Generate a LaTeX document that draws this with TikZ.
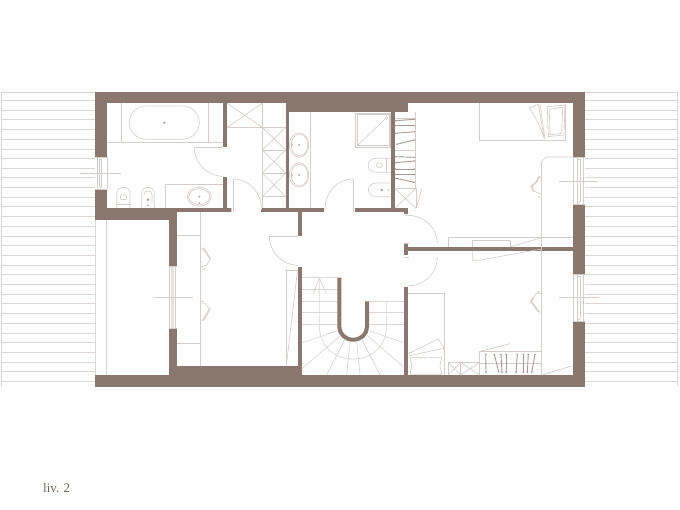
\documentclass[tikz,border=0pt]{standalone}
\usepackage{fontspec}
\setmainfont{Liberation Serif}
\definecolor{wallc}{HTML}{8A776E}
\definecolor{linec}{HTML}{DDD6D4}
\definecolor{fixc}{HTML}{D6CDCB}
\definecolor{darkc}{HTML}{A89B95}
\definecolor{labelc}{HTML}{6F625C}
\definecolor{glassc}{HTML}{E6E1DF}
\tikzset{
  wall/.style={fill=wallc,draw=none},
  thin line/.style={draw=linec,line width=0.75pt},
  fix/.style={draw=fixc,line width=0.65pt},
  hatch/.style={draw=linec,line width=0.8pt},
  axisline/.style={draw=fixc,line width=0.6pt},
  hanger/.style={draw=darkc,line width=0.9pt},
  lamp/.style={draw=linec,line width=2pt,line cap=round,line join=round},
  stairarm/.style={draw=wallc,line width=4pt},
}
\begin{document}
\begin{tikzpicture}[x=1pt,y=-1pt]
\useasboundingbox (0,0) rectangle (680,510);
% roof hatches
\foreach \y in {92.3,100.5,110.2,119.9,129.6,139.3,149,158.4,168.1,177.8,187.5,197.2,206.9,216.6,226.3,236,245.7,255.4,265.1,274.8,284.5,294.2,303.9,313.6,323.3,333,342.7,352.4,362.1,371.8,381.5}{
  \draw[hatch] (1.5,\y) -- (95,\y);
  \draw[hatch] (585,\y) -- (677,\y);
}
\draw[hatch] (1.5,92.3) -- (1.5,386);
\draw[hatch] (677,92.3) -- (677,386);
% lower left room
\fill[white] (95,219.7) rectangle (168.7,375);
\draw[thin line] (95,219.7) -- (95,375);
\draw[thin line] (106.7,219.7) -- (106.7,375);
\draw[thin line] (95,375) -- (168.7,375);
\draw[thin line] (95,219.7) -- (168.7,219.7);
% walls
\fill[wall] (95,92) rectangle (585,103.3);
\fill[wall] (285.7,103) rectangle (408.3,112.3);
\fill[wall] (95,92) rectangle (107,157);
\fill[wall] (95,189) rectangle (107,219.7);
\fill[wall] (95,208.3) rectangle (176.7,219.7);
\fill[wall] (168.7,208.3) rectangle (176.7,266.7);
\fill[wall] (168.7,328.3) rectangle (176.7,386.7);
\fill[wall] (95,375) rectangle (585,386.7);
\fill[wall] (176.7,366) rectangle (302.3,375);
\fill[wall] (573.3,92) rectangle (585,157.3);
\fill[wall] (573.3,204) rectangle (585,274.3);
\fill[wall] (573.3,321) rectangle (585,386.7);
\fill[wall] (223.3,103) rectangle (227.3,147);
\fill[wall] (223.3,176.7) rectangle (227.3,212.3);
\fill[wall] (176,208.3) rectangle (231.3,212.3);
\fill[wall] (260.7,208.3) rectangle (324.3,212.3);
\fill[wall] (355.3,208.3) rectangle (408.3,212.3);
\fill[wall] (404,208.3) rectangle (408.3,214.3);
\fill[wall] (285.7,103) rectangle (289.3,212);
\fill[wall] (390.7,103) rectangle (394.7,212);
\fill[wall] (298.3,212) rectangle (302.3,235.7);
\fill[wall] (298.3,266.7) rectangle (302.3,375);
\fill[wall] (404,244.3) rectangle (408,255);
\fill[wall] (404,247) rectangle (573.5,251);
\fill[wall] (404,286.7) rectangle (408,375);
% stairs U
\draw[stairarm] (339.3,277.7) -- (339.3,327) .. controls (339.3,334) and (345.5,339.7) .. (353.2,339.7) .. controls (361,339.7) and (367,334) .. (367,327) -- (367,301.3);
% stair treads
\foreach \y in {277.7,289.3,301.3,312.7,324.3}{\draw[thin line] (302.3,\y) -- (337.3,\y);}
\foreach \y in {301.3,312.7,324.3}{\draw[thin line] (369,\y) -- (404,\y);}
\draw[thin line] (337.7,330.7) -- (302.3,342.7);
\draw[thin line] (340,336) -- (302.3,368.3);
\draw[thin line] (345,339) -- (326.7,375);
\draw[thin line] (350,341.7) -- (346.7,375);
\draw[thin line] (356.7,341.7) -- (360,375);
\draw[thin line] (361.7,339) -- (380,375);
\draw[thin line] (366.7,335) -- (403.3,366.7);
\draw[thin line] (369,330.7) -- (403.3,342.7);
\draw[thin line] (319.3,277.7) -- (319.3,325) .. controls (319.3,347) and (335,359) .. (353,359) .. controls (371,359) and (386.7,347) .. (386.7,325) -- (386.7,301.3);
\draw[thin line] (313.3,294.3) -- (319.3,277.7) -- (326.7,294.3);
% doors
\draw[fix] (194.3,147.3) -- (223.3,147.3);
\draw[fix] (194.3,147.3) .. controls (194.3,163.3) and (207.3,176.3) .. (223.3,176.3);
\draw[fix] (233.3,179) -- (233.3,212);
\draw[fix] (233.3,179) .. controls (249,179) and (261.5,192) .. (261.5,210);
\draw[fix] (231.3,208.3) -- (231.3,212.3);
\draw[fix] (353.3,179) -- (353.3,212);
\draw[fix] (353.3,179) .. controls (337,179) and (325,192) .. (325,210);
\draw[fix] (405,215.3) -- (408,215.3) .. controls (425,216) and (437.3,228) .. (437.3,243.5);
\draw[fix] (404,243.5) -- (408.5,243.5);
\draw[fix] (404,257) -- (408.5,257);
\draw[fix] (437.3,257) .. controls (437.3,273) and (425,285.7) .. (408,285.7);
\draw[fix] (269.3,236) -- (298.3,236);
\draw[fix] (269.3,236) .. controls (269.3,252) and (282,265.3) .. (298.3,265.3);
% left bath
\draw[fix] (121.3,103.3) -- (121.3,142.3);
\draw[fix] (208.7,103.3) -- (208.7,142.3);
\draw[fix] (107,142.3) -- (223.3,142.3);
\draw[fix] (147,106) -- (182,106) .. controls (192,106) and (199.3,113) .. (199.3,122.7) .. controls (199.3,132) and (192,139.3) .. (182,139.3) -- (147,139.3) .. controls (137,139.3) and (129.3,132) .. (129.3,122.7) .. controls (129.3,113) and (137,106) .. (147,106) -- cycle;
\fill[darkc] (164.3,122.7) circle[radius=1.2];
\draw[fix] (165.3,208) -- (165.3,184) -- (223.3,184);
\draw[fix] (199.3,196.7) ellipse[x radius=12,y radius=9.5];
\draw[fix] (199.3,196.7) ellipse[x radius=10.5,y radius=8];
\fill[darkc] (199.3,196.7) circle[radius=1];
\fill[darkc] (199.3,203) circle[radius=.8];
% wc left
\draw[fix] (116.7,208) -- (116.7,193) .. controls (116.7,185.5) and (130,185.5) .. (130,193) -- (130,208);
\draw[fix] (116.2,204) -- (130.5,204);
\draw[fix,rounded corners=1pt] (120.5,195) rectangle (126.5,199.5);
\draw[fix] (141.7,208) -- (141.7,193) .. controls (141.7,185.5) and (154.3,185.5) .. (154.3,193) -- (154.3,208);
\draw[fix] (144,194) .. controls (144,190) and (152,190) .. (152,194) -- (152,203);
\fill[darkc] (148,199.7) circle[radius=1.4];
\fill[darkc] (148,205.5) circle[radius=.8];
% left window
\draw[fix] (95,157) -- (107,157) (95,189) -- (107,189);
\draw[fix] (97.3,157) -- (97.3,189) (99.5,159) -- (99.5,187) (101.7,159) -- (101.7,187) (99.5,159) -- (101.7,159) (99.5,187) -- (101.7,187) (107,157) -- (107,189);
\draw[axisline] (80,173.3) -- (120.7,173.3);
% closet
\draw[fix] (262.3,103.3) -- (262.3,208.3);
\draw[fix] (227.3,127.3) -- (285.7,127.3);
\draw[fix] (262.3,150) -- (285.7,150) (262.3,173) -- (285.7,173) (262.3,196.7) -- (285.7,196.7);
\draw[fix] (227.3,103.3) -- (262.3,127.3) (227.3,127.3) -- (262.3,103.3);
\draw[fix] (262.3,127.3) -- (285.7,150) (262.3,150) -- (285.7,127.3);
\draw[fix] (262.3,150) -- (285.7,173) (262.3,173) -- (285.7,150);
\draw[fix] (262.3,173) -- (285.7,196.7) (262.3,196.7) -- (285.7,173);
% bath 2
\draw[fix] (310.7,112.3) -- (310.7,208.3);
\foreach \y in {145,175}{
  \draw[fix] (299,\y) ellipse[x radius=9.7,y radius=12.3];
  \draw[fix] (299.5,\y) ellipse[x radius=8.3,y radius=10.8];
  \fill[darkc] (299,\y) circle[radius=1];
  \fill[darkc] (292,\y) circle[radius=.8];
}
\draw[fix] (355.3,113) rectangle (390.7,147.3);
\draw[fix] (357,114.5) rectangle (389,145);
\draw[fix] (358,145) -- (385,119);
\draw[fix] (386.5,118) circle[radius=1.5];
\draw[fix] (390.7,158.3) -- (376,158.3) .. controls (365.5,158.3) and (365.5,172.3) .. (376,172.3) -- (390.7,172.3);
\draw[fix] (386,158.3) -- (386,172.3);
\draw[fix] (379.3,165.2) ellipse[x radius=3,y radius=2.5];
\draw[fix] (390.7,183) -- (377,183) .. controls (365.5,183) and (365.5,196.7) .. (377,196.7) -- (390.7,196.7);
\fill[darkc] (381.7,190) circle[radius=1.4];
\fill[darkc] (388.3,190) circle[radius=.7];
% wardrobe
\draw[fix] (415,112.3) -- (415,188.3);
\draw[fix] (394.7,118) -- (415,118) (394.7,150) -- (415,150) (394.7,188.3) -- (416,188.3) -- (416,208.3);
\draw[fix] (394.7,188.3) -- (416,208.3) (394.7,208.3) -- (416,188.3);
\draw[fix] (421.7,189) -- (416.7,206.7);
\foreach \a/\b/\c/\d in {395.7/120.7/414.3/119.3,395.7/125.7/414.3/125.7,395.7/133.3/414.3/131.7,396.7/144.3/414.3/140,395.7/156.7/414.3/157.3,395.7/162.7/414.3/161,395.7/169/414.3/169,395.7/174.3/414.3/174.3,395.7/178.3/414.3/182.3}{
  \draw[hanger] (\a,\b) -- (\c,\d);
  \fill[darkc] (\a,\b) circle[radius=.8] (\c,\d) circle[radius=.8];
}
% corridor closet
\draw[fix] (286.3,366) -- (286.3,270.3) -- (298.3,270.3);
\draw[fix] (297.5,270.3) -- (286.3,366);
% left room
\draw[fix] (200.3,212.3) -- (200.3,366);
\draw[fix] (176.7,235.3) -- (200.3,235.3);
\draw[fix] (176.7,343.3) -- (200.3,343.3);
\fill[glassc] (171,266.7) rectangle (173.5,328.3);
\draw[fix] (168.7,266.7) -- (176.7,266.7) (168.7,328.3) -- (176.7,328.3) (169.5,266.7) -- (169.5,328.3) (175,266.7) -- (175,328.3);
\draw[axisline] (152.7,297.3) -- (192.7,297.3);
\draw[lamp] (203.3,248.3) -- (210,258.3);
\draw[fix] (200.3,250) -- (203.3,248.3) (210,259) -- (206.7,265) -- (200.3,267);
\fill[fixc] (204,269) circle[radius=1];
\draw[lamp] (210,308.5) -- (203.3,320);
\draw[fix] (200.3,303) -- (205,303.3) -- (209,308.3) (203.3,320) -- (200.3,320.5);
\fill[fixc] (202.5,301.5) circle[radius=1];
% top bedroom
\draw[fix] (479.3,103.3) -- (479.3,140) -- (565.7,140) -- (565.7,104);
\draw[fix] (529.3,108.3) -- (538.3,104.3) -- (544.3,139) .. controls (540,125) and (535,116) .. (529.3,108.3) -- cycle;
\draw[fix] (540,104.3) -- (545,139);
\draw[fix] (547.3,106.7) -- (565,105) -- (564,135) -- (548.3,136.7) -- cycle;
\draw[fix] (549.3,109.3) -- (562.7,107.3) -- (561.7,133.3) -- (550,135) -- cycle;
\draw[fix] (573.3,157) -- (546,157) -- (541.5,161.7) -- (541.5,375);
\draw[fix] (573.3,157.3) -- (585,157.3) (573.3,204) -- (585,204) (573.3,157) -- (573.3,204) (577.7,157) -- (577.7,204) (580.3,159) -- (580.3,202) (583,157) -- (583,204) (577.7,159) -- (580.3,159) (577.7,202) -- (580.3,202);
\draw[axisline] (559,181.3) -- (598,181.3);
\draw[lamp] (539,176.5) -- (536.7,181.7) -- (531.5,186) -- (533.3,190.7);
\draw[fix] (541.5,178) -- (539,176.5) (533.3,190.7) -- (541.5,194.5);
\fill[fixc] (539,197) circle[radius=1];
% closets at partition
\draw[fix] (448.3,247) -- (448.3,237.7) -- (541.7,237.7);
\draw[fix] (472.7,251) -- (472.7,260.3) -- (479,260.3) -- (541.7,249);
\draw[fix] (472.7,247) -- (472.7,240.3) -- (510.7,240.3) -- (510.7,247);
\draw[fix] (510.7,246.7) -- (541.7,237.7);
\draw[fix] (541.7,237.7) -- (573.3,237.7);
% lower bedroom
\draw[fix] (408,293.7) -- (444.7,293.7) -- (444.7,375);
\draw[fix] (409,353.3) -- (438.3,339) -- (444.3,348.3) -- (409,355.7);
\draw[fix] (410,357.7) -- (441.7,357.7) -- (440,366) -- (441.7,374.3) -- (410,374.3) -- (411.7,366) -- cycle;
\draw[fix] (479.7,375) -- (479.7,351.5) -- (541.7,351.5);
\draw[fix] (479.7,351.5) -- (510,343.7);
\draw[fix] (448.3,375) -- (448.3,362.3) -- (479.7,362.3);
\draw[fix] (460.7,362.3) -- (460.7,375);
\draw[fix] (448.3,362.3) -- (460.7,375) (448.3,375) -- (460.7,362.3) (460.7,362.3) -- (479.7,375) (460.7,375) -- (479.7,362.3);
\draw[fix] (479.7,363.5) -- (541.7,363.5);
\foreach \a/\b/\c/\d in {485.7/354.5/486/372.3,494.3/354.5/498.7/371.7,501/354.5/502/372.3,506/354.5/506/372.3,517.3/354.5/516/372.3,523.3/354.5/523.3/372.3,528.3/354.5/527.3/372.3,535/354.5/531.7/372.3}{
  \draw[hanger] (\a,\b) -- (\c,\d);
  \fill[darkc] (\a,\b) circle[radius=.9] (\c,\d) circle[radius=.9];
}
\draw[fix] (541.7,375) -- (572.7,365.7);
\draw[fix] (573.3,274.3) -- (585,274.3) (573.3,321) -- (585,321) (573.3,274) -- (573.3,321) (577.7,274) -- (577.7,321) (580.3,276) -- (580.3,319) (583,274) -- (583,321) (577.7,276) -- (580.3,276) (577.7,319) -- (580.3,319);
\draw[axisline] (559,297.3) -- (599,297.3);
\draw[lamp] (533.3,298) -- (530.7,301.7) -- (535,306.7) -- (538.5,311.5);
\draw[fix] (533.3,298) -- (536,293.5) -- (541.5,293) (538.5,311.5) -- (541.5,312.3);
\fill[fixc] (538.3,292) circle[radius=1];
% label
\node[anchor=base west,inner sep=0pt,text=labelc,font=\fontsize{13}{15}\selectfont] (label) at (43,492) {liv. 2};
\end{tikzpicture}
\end{document}
